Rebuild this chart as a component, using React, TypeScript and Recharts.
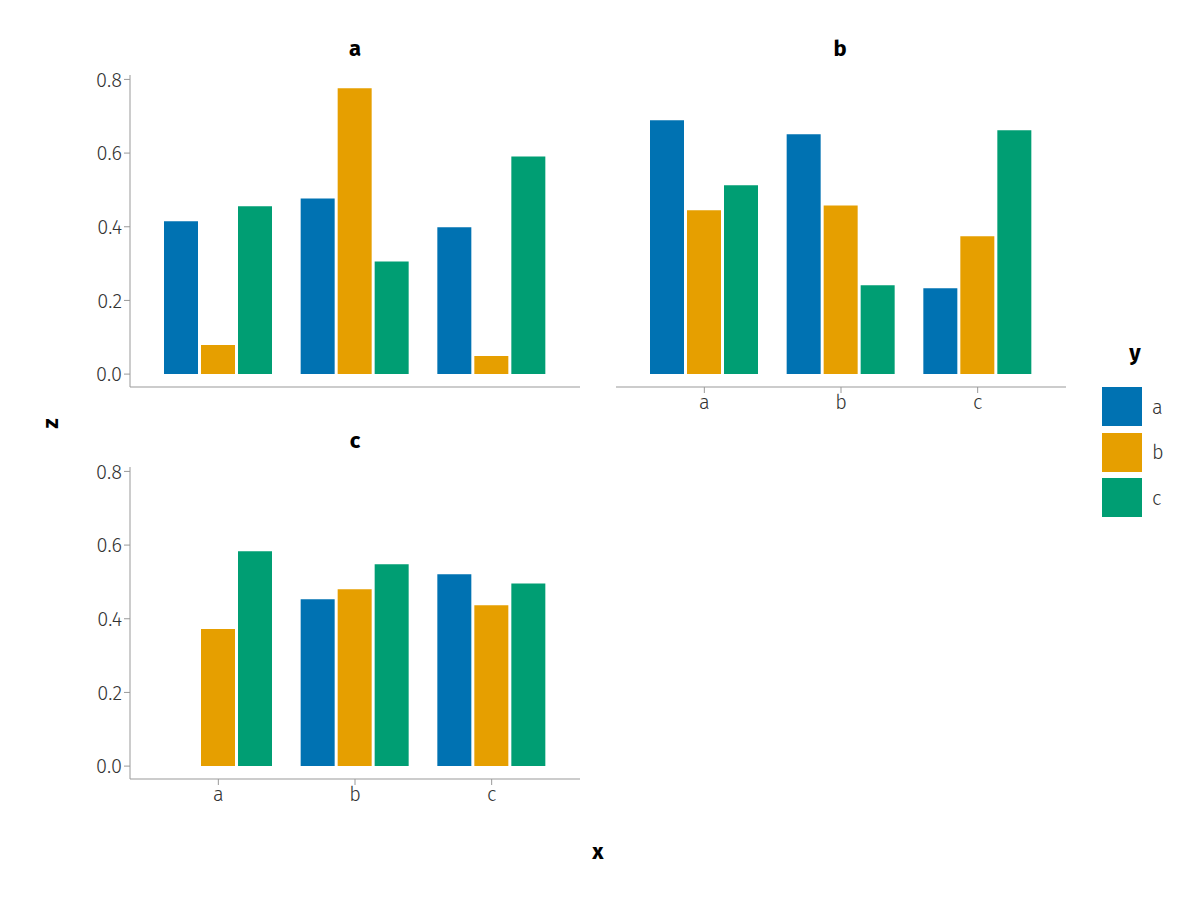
import { Bar, BarChart, XAxis, YAxis } from "recharts";

const categories = ["a", "b", "c"];
const seriesKeys = ["a", "b", "c"];
const colors = ["#0072b2", "#e69f00", "#009e73"];
const yTicks = [0, 0.2, 0.4, 0.6, 0.8];

const panelA = { a: [0.415, 0.477, 0.399], b: [0.079, 0.776, 0.049], c: [0.456, 0.306, 0.591] };
const panelB = { a: [0.689, 0.651, 0.233], b: [0.445, 0.458, 0.374], c: [0.513, 0.241, 0.662] };
const panelC = { a: [0, 0.453, 0.521], b: [0.372, 0.48, 0.437], c: [0.583, 0.548, 0.496] };

const font = "'Fira Sans', 'Open Sans', sans-serif";
const axisColor = "#999";
const tickStyle = { fill: "#333", fontSize: 20, fontWeight: 300, fontFamily: font };

const toRows = (p: Record<string, number[]>) =>
  categories.map((c, i) => ({ x: c, a: p.a[i], b: p.b[i], c: p.c[i] }));

interface PanelProps {
  data: Record<string, number[]>;
  left: number;
  top: number;
  showY: boolean;
  showX: boolean;
}

const Panel = ({ data, left, top, showY, showX }: PanelProps) => (
  <div style={{ position: "absolute", left, top }}>
    <BarChart
      width={showY ? 600 : 500}
      height={430}
      data={toRows(data)}
      margin={{ top: 75, right: showY ? 20 : 34, left: showY ? 80 : 16, bottom: showX ? 13 : 42 }}
      barCategoryGap={14}
      barGap={3}
    >
      <XAxis
        dataKey="x"
        padding={{ left: 20, right: 20 }}
        height={showX ? 30 : 1}
        tick={showX ? tickStyle : false}
        tickLine={showX ? { stroke: axisColor } : false}
        axisLine={{ stroke: axisColor }}
        tickSize={6}
      />
      <YAxis
        domain={[-0.035, 0.812]}
        ticks={yTicks}
        width={showY ? 50 : 0}
        tick={showY ? tickStyle : false}
        tickLine={showY ? { stroke: axisColor } : false}
        axisLine={{ stroke: axisColor }}
        tickFormatter={(v: number) => v.toFixed(1)}
        tickSize={6}
      />
      {seriesKeys.map((k, i) => (
        <Bar key={k} dataKey={k} fill={colors[i]} isAnimationActive={false} />
      ))}
    </BarChart>
  </div>
);

const label = (text: string, x: number, y: number, size = 22) => (
  <div
    style={{
      position: "absolute",
      left: x - 30,
      top: y - size * 0.7,
      width: 60,
      textAlign: "center",
      fontFamily: font,
      fontWeight: 700,
      fontSize: size,
      color: "#000",
    }}
  >
    {text}
  </div>
);

const App = () => (
  <div style={{ position: "relative", width: 1200, height: 900, margin: -8, background: "#fff", fontFamily: font }}>
    <Panel data={panelA} left={0} top={0} showY showX={false} />
    <Panel data={panelB} left={600} top={0} showY={false} showX />
    <Panel data={panelC} left={0} top={392} showY showX />
    {label("a", 355, 50)}
    {label("b", 840, 50)}
    {label("c", 355, 442)}
    {label("x", 598, 853)}
    <div
      style={{
        position: "absolute",
        left: 20,
        top: 410,
        width: 60,
        textAlign: "center",
        fontWeight: 700,
        fontSize: 22,
        transform: "rotate(-90deg)",
      }}
    >
      z
    </div>
    {label("y", 1135, 354)}
    {seriesKeys.map((k, i) => (
      <div key={k} style={{ position: "absolute", left: 1102, top: 387 + i * 45.5, display: "flex", alignItems: "center" }}>
        <div style={{ width: 40, height: 39, background: colors[i] }} />
        <span style={{ marginLeft: 10, fontSize: 20, fontWeight: 300, color: "#333" }}>{k}</span>
      </div>
    ))}
  </div>
);

export default App;
